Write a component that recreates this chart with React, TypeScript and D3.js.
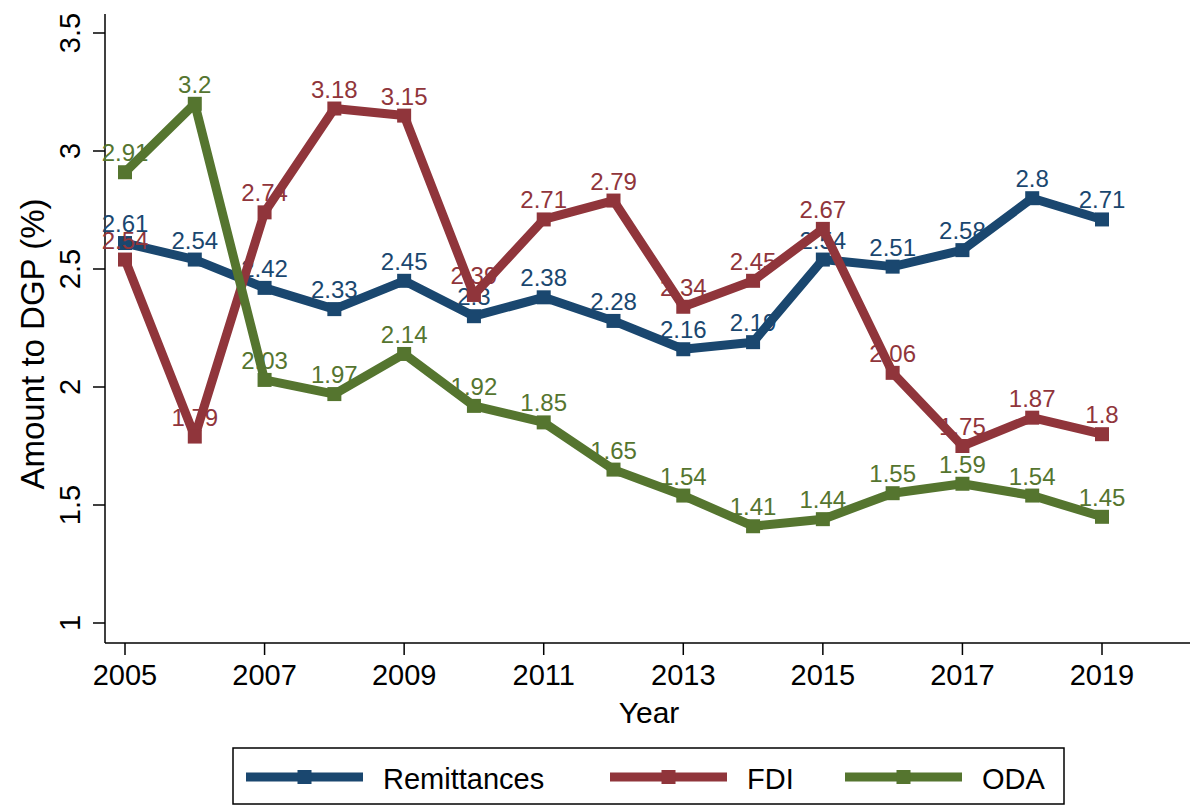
import React from "react";
import * as d3 from "d3";

const years = [2005, 2006, 2007, 2008, 2009, 2010, 2011, 2012, 2013, 2014, 2015, 2016, 2017, 2018, 2019];
const remittances = [2.61, 2.54, 2.42, 2.33, 2.45, 2.3, 2.38, 2.28, 2.16, 2.19, 2.54, 2.51, 2.58, 2.8, 2.71];
const fdi = [2.54, 1.79, 2.74, 3.18, 3.15, 2.39, 2.71, 2.79, 2.34, 2.45, 2.67, 2.06, 1.75, 1.87, 1.8];
const oda = [2.91, 3.2, 2.03, 1.97, 2.14, 1.92, 1.85, 1.65, 1.54, 1.41, 1.44, 1.55, 1.59, 1.54, 1.45];
const xTicks = [2005, 2007, 2009, 2011, 2013, 2015, 2017, 2019];
const yTicks = [1, 1.5, 2, 2.5, 3, 3.5];
const seriesNames = ["Remittances", "FDI", "ODA"];
const seriesColors = ["#1a476f", "#90353b", "#55752f"];

const FONT = "'Liberation Sans', Arial, Helvetica, sans-serif";

export default function App() {
  const W = 1190;
  const H = 806;
  const x = d3.scaleLinear().domain([2005, 2019]).range([125, 1102]);
  const y = d3.scaleLinear().domain([1, 3.5]).range([623, 33]);
  const axisLeft = 105;
  const axisRight = W;
  const axisBottom = 643;
  const axisTop = 14;

  const series = [remittances, fdi, oda];
  const line = d3
    .line<number>()
    .x((_, i) => x(years[i]))
    .y((d) => y(d));

  const ms = 14;
  const legendLineStarts = [246, 610, 845];
  const legendLineLen = 117;
  const legendY = 777;

  const fmt = (v: number) => String(v);

  return (
    <svg
      width={W}
      height={H}
      style={{ position: "absolute", left: 0, top: 0, background: "#fff" }}
      fontFamily={FONT}
    >
      <rect x={0} y={0} width={W} height={H} fill="#fff" />
      {/* axes */}
      <line x1={axisLeft} x2={axisLeft} y1={axisTop} y2={axisBottom} stroke="#000" strokeWidth={1.5} />
      <line x1={axisLeft} x2={axisRight} y1={axisBottom} y2={axisBottom} stroke="#000" strokeWidth={1.5} />
      {yTicks.map((t) => (
        <g key={"yt" + t}>
          <line x1={axisLeft - 12} x2={axisLeft} y1={y(t)} y2={y(t)} stroke="#000" strokeWidth={1.5} />
          <text
            transform={`translate(80,${y(t)}) rotate(-90)`}
            textAnchor="middle"
            fontSize={29}
            fill="#000"
          >
            {fmt(t)}
          </text>
        </g>
      ))}
      {xTicks.map((t) => (
        <g key={"xt" + t}>
          <line x1={x(t)} x2={x(t)} y1={axisBottom} y2={axisBottom + 12} stroke="#000" strokeWidth={1.5} />
          <text x={x(t)} y={685} textAnchor="middle" fontSize={29} fill="#000">
            {t}
          </text>
        </g>
      ))}
      <text transform={`translate(44,344) rotate(-90)`} textAnchor="middle" fontSize={33} fill="#000">
        Amount to DGP (%)
      </text>
      <text x={649} y={723} textAnchor="middle" fontSize={30} fill="#000">
        Year
      </text>

      {/* series */}
      {series.map((vals, si) => (
        <g key={"s" + si}>
          <path d={line(vals) || ""} fill="none" stroke={seriesColors[si]} strokeWidth={9} strokeLinejoin="round" />
          {vals.map((v, i) => (
            <rect
              key={"m" + i}
              x={x(years[i]) - ms / 2}
              y={y(v) - ms / 2}
              width={ms}
              height={ms}
              fill={seriesColors[si]}
            />
          ))}
          {vals.map((v, i) => (
            <text
              key={"l" + i}
              x={x(years[i])}
              y={y(v) - 11}
              textAnchor="middle"
              fontSize={24}
              fill={seriesColors[si]}
            >
              {fmt(v)}
            </text>
          ))}
        </g>
      ))}

      {/* legend */}
      <rect x={233} y={748} width={831} height={56} fill="#fff" stroke="#000" strokeWidth={1.5} />
      {seriesNames.map((name, si) => (
        <g key={"lg" + si}>
          <line
            x1={legendLineStarts[si]}
            x2={legendLineStarts[si] + legendLineLen}
            y1={legendY}
            y2={legendY}
            stroke={seriesColors[si]}
            strokeWidth={9}
          />
          <rect
            x={legendLineStarts[si] + legendLineLen / 2 - ms / 2}
            y={legendY - ms / 2}
            width={ms}
            height={ms}
            fill={seriesColors[si]}
          />
          <text x={legendLineStarts[si] + legendLineLen + 20} y={789} fontSize={29} fill="#000">
            {name}
          </text>
        </g>
      ))}
    </svg>
  );
}
